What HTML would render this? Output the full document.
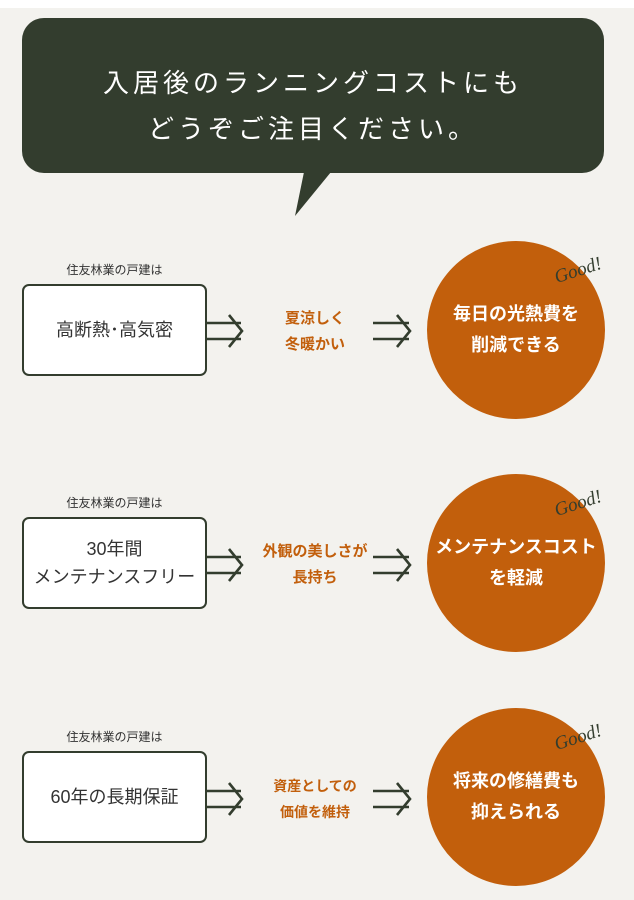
<!DOCTYPE html>
<html><head><meta charset="utf-8"><style>
body{margin:0;width:634px;height:900px;background:#fff;overflow:hidden;font-family:"Liberation Sans","Noto Sans CJK JP",sans-serif;}
.bg{position:absolute;left:0;top:8px;width:634px;height:892px;background:#f3f2ee;}
.bub{position:absolute;left:22px;top:18px;width:582px;height:155px;background:#333d2e;border-radius:22px;color:#fff;font-size:26px;letter-spacing:4px;text-align:center;line-height:46px;padding-top:42px;box-sizing:border-box;}
.lab{position:absolute;left:22px;width:185px;text-align:center;font-size:12px;color:#333;}
.box{position:absolute;left:22px;width:185px;height:92px;background:#fff;border:2.5px solid #333d2e;border-radius:7px;box-sizing:border-box;display:flex;align-items:center;justify-content:center;text-align:center;font-size:18px;color:#333;line-height:28px;}
.mid{position:absolute;left:250px;width:130px;text-align:center;color:#c25f0c;font-size:15px;line-height:26px;font-weight:bold;}
.cir{position:absolute;left:427px;width:178px;height:178px;border-radius:50%;background:#c25f0c;color:#fff;font-size:18px;font-weight:bold;line-height:31px;display:flex;align-items:center;justify-content:center;text-align:center;}
.good{position:absolute;left:554px;font-family:"Liberation Serif",serif;font-style:italic;font-size:19px;color:#333d2e;transform:rotate(-18deg);}
svg{position:absolute;left:0;top:0;}
</style></head><body>
<div class="bg"></div>
<div class="bub">入居後のランニングコストにも<br>どうぞご注目ください。</div>
<svg width="634" height="900"><polygon points="304,172 331,172 295,216" fill="#333d2e"/>
<g fill="none" stroke="#333d2e" stroke-width="2.6">
<path d="M207,323H241M207,339H241M229,315L242,331L229,347"/>
<path d="M373,323H409M373,339H409M397,315L410,331L397,347"/>
<path d="M207,557H241M207,573H241M229,549L242,565L229,581"/>
<path d="M373,557H409M373,573H409M397,549L410,565L397,581"/>
<path d="M207,791H241M207,807H241M229,783L242,799L229,815"/>
<path d="M373,791H409M373,807H409M397,783L410,799L397,815"/>
</g></svg>
<div class="lab" style="top:261px">住友林業の戸建は</div>
<div class="box" style="top:284px">高断熱･高気密</div>
<div class="mid" style="top:306px">夏涼しく<br>冬暖かい</div>
<div class="cir" style="top:241px">毎日の光熱費を<br>削減できる</div>
<div class="good" style="top:260px">Good!</div>

<div class="lab" style="top:494px">住友林業の戸建は</div>
<div class="box" style="top:517px">30年間<br>メンテナンスフリー</div>
<div class="mid" style="top:539px">外観の美しさが<br>長持ち</div>
<div class="cir" style="top:474px">メンテナンスコスト<br>を軽減</div>
<div class="good" style="top:493px">Good!</div>

<div class="lab" style="top:728px">住友林業の戸建は</div>
<div class="box" style="top:751px">60年の長期保証</div>
<div class="mid" style="top:773px;font-size:14px">資産としての<br>価値を維持</div>
<div class="cir" style="top:708px">将来の修繕費も<br>抑えられる</div>
<div class="good" style="top:727px">Good!</div>
</body></html>
